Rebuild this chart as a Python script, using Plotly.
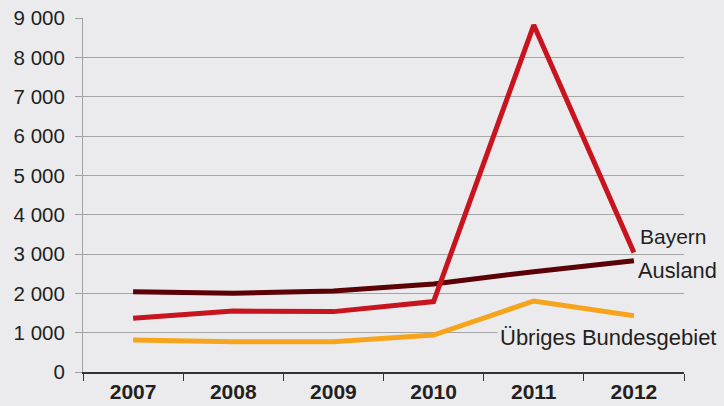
import plotly.graph_objects as go

years = ["2007", "2008", "2009", "2010", "2011", "2012"]
bayern = [1365, 1550, 1535, 1790, 8820, 3040]
ausland = [2040, 2000, 2060, 2240, 2550, 2830]
uebriges = [815, 770, 770, 940, 1805, 1430]
y_ticks = [0, 1000, 2000, 3000, 4000, 5000, 6000, 7000, 8000, 9000]
y_tick_labels = ["0", "1 000", "2 000", "3 000", "4 000", "5 000", "6 000", "7 000", "8 000", "9 000"]

BG = "#ebebed"
FONT = "Liberation Sans, Arial, sans-serif"
last = len(years) - 1

fig = go.Figure()
fig.add_trace(go.Scatter(x=years, y=ausland, mode="lines", name="Ausland",
                         line=dict(color="#5c0008", width=5)))
fig.add_trace(go.Scatter(x=years, y=uebriges, mode="lines", name="Übriges Bundesgebiet",
                         line=dict(color="#f7a41d", width=5)))
fig.add_trace(go.Scatter(x=years, y=bayern, mode="lines", name="Bayern",
                         line=dict(color="#c8141e", width=5)))

fig.add_annotation(x=last, y=bayern[-1], text="Bayern", showarrow=False,
                   xanchor="left", yanchor="middle", xshift=4, yshift=16,
                   font=dict(size=21, color="#231f20", family=FONT))
fig.add_annotation(x=last, y=ausland[-1], text="Ausland", showarrow=False,
                   xanchor="left", yanchor="middle", xshift=2, yshift=-10,
                   font=dict(size=21.8, color="#231f20", family=FONT))
fig.add_annotation(x=last, y=uebriges[-1], text="Übriges Bundesgebiet", showarrow=False,
                   xanchor="right", yanchor="middle", xshift=85, yshift=-22,
                   bgcolor=BG, borderpad=2,
                   font=dict(size=22, color="#231f20", family=FONT))

fig.update_layout(
    width=724, height=406,
    margin=dict(l=83, r=40, t=18, b=34),
    paper_bgcolor=BG, plot_bgcolor=BG,
    showlegend=False,
    font=dict(family=FONT, color="#231f20"),
)
fig.update_xaxes(
    type="category", tickson="boundaries", automargin=False,
    ticks="outside", ticklen=7, tickcolor="#333333", tickwidth=1,
    showgrid=False, showline=True, linecolor="#333333", linewidth=2,
    tickfont=dict(size=21, family=FONT, color="#231f20", weight="bold"),
    range=[-0.5, 5.5],
)
fig.update_yaxes(
    range=[0, 9000], tickvals=y_ticks, ticktext=y_tick_labels, automargin=False,
    ticks="outside", ticklen=7, tickcolor="#a0a0a0", tickwidth=1,
    showgrid=True, gridcolor="#a5a5a5", gridwidth=1,
    showline=True, linecolor="#a0a0a0", linewidth=1,
    zeroline=False,
    tickfont=dict(size=20.5, family=FONT, color="#231f20"),
    ticklabelstandoff=6,
)

fig.write_html("out.html",
               config={"displayModeBar": False},
               post_script="document.body.style.margin='0';document.body.style.background='" + BG + "';")
